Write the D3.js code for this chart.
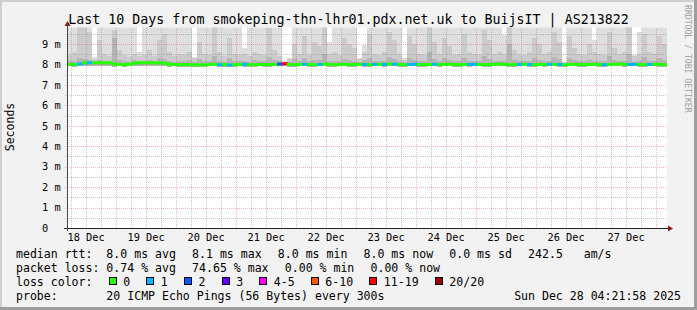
<!DOCTYPE html>
<html>
<head>
<meta charset="utf-8">
<script src="https://cdn.jsdelivr.net/npm/d3@7"></script>
<style>
  html, body { margin: 0; padding: 0; background: #f2f2f2; }
  svg { display: block; }
  text { font-family: "DejaVu Sans Mono", monospace; fill: #000; white-space: pre; }
</style>
</head>
<body>
<svg id="chart"></svg>
<script>
const title = "Last 10 Days from smokeping-thn-lhr01.pdx.net.uk to BuijsIT | AS213822";
const startTime = new Date(2025, 11, 18, 4, 21, 58);
const endTime = new Date(2025, 11, 28, 4, 21, 58);
const binHours = 2; // one value every 2 hours

// median rtt (ms) per bin
const median = [
  8.00,8.00,8.03,8.08,8.08,8.08,8.08,8.08,8.07,8.01,8.00,7.99,8.02,8.07,8.08,8.08,8.08,8.07,8.08,8.05,
  8.01,8.00,7.99,8.00,7.99,7.98,7.99,7.98,8.00,8.01,7.99,8.00,7.98,7.99,8.00,8.01,7.99,7.99,8.00,8.00,
  7.99,8.00,8.02,8.04,8.00,7.99,8.00,8.01,8.00,7.99,8.00,8.02,8.00,7.99,8.00,8.01,7.99,8.00,8.01,8.00,
  7.99,8.00,8.01,8.00,8.03,8.01,8.00,7.99,8.00,8.01,8.00,7.99,8.00,8.01,8.00,8.00,8.01,8.00,7.99,8.00,
  8.00,8.01,8.00,7.99,8.00,8.01,8.02,8.00,7.99,8.00,8.00,8.01,8.00,7.99,8.00,8.00,8.01,8.00,8.00,7.99,
  8.00,8.01,8.00,7.99,8.00,8.01,8.00,7.99,8.00,8.01,8.02,8.00,8.00,8.01,8.00,7.99,8.00,8.01,8.00,7.99
];

// loss colour bucket per bin (index into lossLabels)
const loss = [
  0,0,1,0,1,0,0,0,0,0,0,0,0,0,0,0,0,0,0,0,
  0,0,0,0,0,0,0,0,0,0,1,0,1,0,0,1,0,0,0,0,
  0,0,2,6,0,0,0,1,0,0,1,0,0,0,0,0,0,0,0,1,
  0,1,0,1,0,1,0,0,1,1,0,0,0,1,0,0,0,0,0,0,
  1,1,0,0,0,0,0,0,0,0,1,0,1,0,0,0,1,0,1,0,
  0,0,0,0,0,0,0,1,0,0,0,0,1,1,0,0,1,0,0,0
];

// smoke: lowest ping, inner band, middle band, highest ping (ms)
const smokeLo = [
  7.92,7.90,7.93,7.95,7.94,7.91,7.93,7.94,7.92,7.90,7.91,7.89,7.92,7.94,7.95,7.93,7.94,7.92,7.93,7.91,
  7.90,7.91,7.89,7.90,7.88,7.89,7.90,7.88,7.91,7.92,7.89,7.90,7.88,7.90,7.91,7.90,7.89,7.90,7.91,7.90,
  7.89,7.91,7.92,7.93,7.90,7.89,7.91,7.92,7.90,7.89,7.91,7.92,7.90,7.89,7.91,7.92,7.89,7.90,7.92,7.90,
  7.89,7.91,7.92,7.90,7.93,7.91,7.90,7.89,7.91,7.92,7.90,7.89,7.91,7.92,7.90,7.91,7.92,7.90,7.89,7.91,
  7.90,7.92,7.91,7.89,7.90,7.92,7.93,7.91,7.89,7.90,7.91,7.92,7.90,7.89,7.91,7.90,7.92,7.91,7.90,7.89,
  7.91,7.92,7.90,7.89,7.91,7.92,7.90,7.89,7.91,7.92,7.93,7.90,7.91,7.92,7.90,7.89,7.91,7.92,7.90,7.89
];
const smokeIn = [
  8.15,8.18,8.30,8.25,8.20,8.12,8.22,8.18,8.16,9.30,8.20,8.15,8.14,8.20,8.18,8.16,8.22,8.15,8.30,8.25,
  8.16,8.14,8.18,8.15,8.20,8.12,8.25,8.16,8.15,8.40,8.18,8.14,8.30,8.16,8.15,8.18,8.14,8.20,8.16,8.15,
  8.35,8.20,8.15,8.10,8.12,8.25,8.16,8.30,8.15,8.22,8.20,8.50,8.16,8.18,8.15,8.28,8.20,8.18,8.12,8.20,
  8.30,8.16,8.15,8.18,8.35,8.25,8.16,8.14,8.30,8.20,8.16,8.15,8.60,8.25,8.16,8.30,8.20,8.15,8.16,8.30,
  8.18,8.16,8.15,8.40,8.25,8.16,8.18,8.16,9.00,8.20,8.16,8.15,8.18,8.30,8.22,8.16,8.18,8.35,8.25,8.08,
  8.30,8.20,8.16,8.15,8.22,8.18,8.16,8.15,8.40,8.20,8.16,8.18,8.50,8.14,8.16,8.35,8.18,8.16,8.30,8.22
];
const smokeMid = [
  8.45,8.60,9.90,10.4,9.60,8.25,9.20,8.50,8.40,9.70,8.70,8.45,8.35,8.50,8.40,8.45,8.70,8.40,9.20,9.50,
  8.60,8.40,8.50,8.45,8.60,8.30,9.10,8.50,8.45,10.2,8.60,8.40,9.30,8.50,8.45,8.50,8.40,8.60,8.50,8.45,
  9.80,8.70,8.40,8.12,8.25,9.00,8.50,9.40,8.45,9.10,8.90,10.1,8.50,8.60,8.45,9.30,9.00,8.80,8.25,8.60,
  9.50,8.50,8.45,8.60,9.60,9.20,8.50,8.20,9.40,9.00,8.50,8.45,10.3,9.10,8.50,9.30,8.90,8.45,8.50,9.50,
  8.60,8.50,8.45,9.70,9.20,8.50,8.60,8.50,10.1,8.70,8.50,8.45,8.60,9.30,9.00,8.50,8.60,9.60,9.10,8.10,
  9.40,8.80,8.50,8.45,9.00,8.60,8.50,8.45,9.60,8.80,8.50,8.60,9.90,8.40,8.50,9.50,8.60,8.50,9.40,9.00
];
const smokeHi = [
  11.2,10.8,12.5,11.9,10.6,8.37,11.4,10.9,11.7,12.2,10.5,11.1,10.7,11.3,8.61,10.9,11.6,10.4,12.1,11.0,
  10.7,11.5,10.9,11.2,10.6,8.37,10.3,11.8,10.9,12.4,11.1,10.6,11.9,10.8,11.3,8.80,10.7,11.2,10.5,11.0,
  12.0,11.3,10.9,8.15,8.30,10.6,11.4,10.8,11.7,10.5,11.2,12.3,9.10,10.9,11.1,10.6,11.8,10.7,8.30,8.95,
  11.3,10.8,11.6,10.5,12.0,11.2,10.7,8.30,11.4,10.9,11.1,10.6,12.2,11.5,10.8,11.0,10.6,11.3,10.9,11.7,
  10.5,11.2,10.8,11.9,11.3,10.7,10.4,9.44,12.1,11.0,10.6,11.4,10.9,11.6,10.8,11.2,10.5,11.8,11.0,8.12,
  11.5,10.9,11.3,10.6,11.0,9.20,10.8,11.7,11.2,10.5,11.4,10.9,12.0,8.46,9.59,11.1,10.7,11.3,10.8,11.6
];

const lossLabels = ["0", "1", "2", "3", "4-5", "6-10", "11-19", "20/20"];
const lossColors = ["#26ff00", "#00b8ff", "#0059ff", "#5e00ff", "#ff00fe", "#ff5500", "#ff0000", "#a10000"];

const legendRtt = ["median rtt:  8.0 ms avg", "8.1 ms max", "8.0 ms min", "8.0 ms now", "0.0 ms sd", "242.5   am/s"];
const legendLoss = ["packet loss: 0.74 % avg", "74.65 % max", "0.00 % min", "0.00 % now"];
const probeText = "probe:       20 ICMP Echo Pings (56 Bytes) every 300s";
const stampText = "Sun Dec 28 04:21:58 2025";
const watermark = "RRDTOOL / TOBI OETIKER";

const W = 697, H = 310;
const plotLeft = 67, plotRight = 667, plotTop = 27.5, plotBottom = 228;
const gap = 16.2;

const svg = d3.select("#chart").attr("width", W).attr("height", H);

// background and frame
svg.append("rect").attr("width", W).attr("height", H).attr("fill", "#f2f2f2");
svg.append("path").attr("d", `M0,0H${W}V2H2V${H}H0Z`).attr("fill", "#cfcfcf");
svg.append("path").attr("d", `M${W},${H}H0V${H - 3}H${W - 3}V0H${W}Z`).attr("fill", "#9e9e9e");

const x = d3.scaleTime().domain([startTime, endTime]).range([plotLeft, plotRight]);
const y = d3.scaleLinear().domain([0, 9.81]).range([plotBottom, plotTop]);

const bins = median.map((m, i) => ({
  t0: d3.timeHour.offset(startTime, i * binHours),
  t1: d3.timeHour.offset(startTime, (i + 1) * binHours),
  median: m, loss: loss[i],
  lo: smokeLo[i], inner: smokeIn[i], mid: smokeMid[i], hi: smokeHi[i]
}));

svg.append("defs").append("clipPath").attr("id", "canvas")
  .append("rect").attr("x", plotLeft).attr("y", plotTop)
  .attr("width", plotRight - plotLeft).attr("height", plotBottom - plotTop);

svg.append("rect").attr("x", plotLeft).attr("y", plotTop)
  .attr("width", plotRight - plotLeft).attr("height", plotBottom - plotTop).attr("fill", "#fff");

// smoke
const smoke = svg.append("g").attr("clip-path", "url(#canvas)").attr("shape-rendering", "crispEdges");
[["hi", "#dedede"], ["mid", "#cbcbcb"], ["inner", "#b4b4b4"]].forEach(([key, color]) => {
  smoke.append("g").selectAll("rect").data(bins).join("rect")
    .attr("x", d => x(d.t0))
    .attr("width", d => x(d.t1) - x(d.t0))
    .attr("y", d => y(d[key]))
    .attr("height", d => y(d.lo) - y(d[key]))
    .attr("fill", color);
});

// grid
const px = v => Math.round(v) + 0.5;
const majorColor = "rgba(222,80,80,0.42)";
const minorColor = "rgba(143,143,143,0.5)";
const grid = svg.append("g").attr("shape-rendering", "crispEdges").attr("stroke-dasharray", "1,1");
const hLines = d3.range(1, 20).map(k => k / 2);
grid.selectAll("line.h").data(hLines).join("line").attr("class", "h")
  .attr("x1", plotLeft - 2).attr("x2", plotRight)
  .attr("y1", d => px(y(d))).attr("y2", d => px(y(d)))
  .attr("stroke", d => d % 1 === 0 ? majorColor : minorColor);
const vLines = d3.timeHour.every(6).range(startTime, endTime);
grid.selectAll("line.v").data(vLines).join("line").attr("class", "v")
  .attr("x1", d => px(x(d))).attr("x2", d => px(x(d)))
  .attr("y1", plotTop).attr("y2", plotBottom + 2)
  .attr("stroke", d => d.getHours() === 0 ? majorColor : minorColor);

// median line coloured by loss
svg.append("g").attr("clip-path", "url(#canvas)").selectAll("path").data(bins).join("path")
  .attr("d", (d, i) => {
    const next = bins[i + 1] ? bins[i + 1].median : d.median;
    return `M${x(d.t0)},${y(d.median)}H${x(d.t1)}V${y(next)}`;
  })
  .attr("fill", "none")
  .attr("stroke-width", 3)
  .attr("stroke", d => lossColors[d.loss]);

// axes
svg.append("line").attr("x1", plotLeft - 3).attr("x2", plotRight + 1)
  .attr("y1", plotBottom + 0.5).attr("y2", plotBottom + 0.5)
  .attr("stroke", "#222").attr("shape-rendering", "crispEdges");
svg.append("line").attr("x1", plotLeft + 0.5).attr("x2", plotLeft + 0.5)
  .attr("y1", plotBottom + 3).attr("y2", plotTop - 3)
  .attr("stroke", "#444").attr("shape-rendering", "crispEdges");
svg.append("path")
  .attr("d", `M${plotRight + 1},${plotBottom - 2.5}L${plotRight + 6},${plotBottom + 0.5}L${plotRight + 1},${plotBottom + 3.5}Z`)
  .attr("fill", "#8b1a1a");
svg.append("path")
  .attr("d", `M${plotLeft - 2.5},${plotTop - 1.5}L${plotLeft + 0.5},${plotTop - 6.5}L${plotLeft + 3.5},${plotTop - 1.5}Z`)
  .attr("fill", "#8b1a1a");

// y labels
svg.append("g").selectAll("text").data(d3.range(0, 10)).join("text")
  .attr("x", 42).attr("y", d => y(d) + 3.7)
  .attr("font-size", "10.3px")
  .text(d => d === 0 ? "0" : d + " m");

// x labels at noon
const days = d3.timeDay.range(d3.timeDay.floor(startTime), endTime)
  .map(d => d3.timeHour.offset(d, 12))
  .filter(d => d > startTime && d < endTime);
svg.append("g").selectAll("text").data(days).join("text")
  .attr("x", d => x(d)).attr("y", 241)
  .attr("text-anchor", "middle").attr("font-size", "10.3px")
  .text(d3.timeFormat("%d %b"));

// title, axis title, watermark
svg.append("text").attr("x", W / 2).attr("y", 24).attr("text-anchor", "middle")
  .attr("font-size", "13.3px").text(title);
svg.append("text").attr("transform", "translate(14,127) rotate(-90)")
  .attr("text-anchor", "middle").attr("font-size", "11.5px").text("Seconds");
svg.append("text").attr("transform", "translate(684.5,5) rotate(90)")
  .attr("font-size", "8.15px").style("fill", "#a0a0a0").text(watermark);

// legend
const legendFont = "11.55px";
function textRow(items, yBase) {
  let cx = 16;
  items.forEach(s => {
    const t = svg.append("text").attr("x", cx).attr("y", yBase).attr("font-size", legendFont).text(s);
    cx += t.node().getComputedTextLength() + gap;
  });
}
textRow(legendRtt, 258);
textRow(legendLoss, 272);

let lx = 16;
const lc = svg.append("text").attr("x", lx).attr("y", 286).attr("font-size", legendFont).text("loss color:");
lx += lc.node().getComputedTextLength() + gap;
lossLabels.forEach((lab, i) => {
  svg.append("rect").attr("x", Math.round(lx) + 0.5).attr("y", 277.5).attr("width", 7).attr("height", 7)
    .attr("fill", lossColors[i]).attr("stroke", "#000").attr("shape-rendering", "crispEdges");
  const t = svg.append("text").attr("x", lx + 14.5).attr("y", 286).attr("font-size", legendFont).text(lab);
  lx += 14.5 + t.node().getComputedTextLength() + gap;
});

svg.append("text").attr("x", 16).attr("y", 300).attr("font-size", legendFont).text(probeText);
svg.append("text").attr("x", 681).attr("y", 300).attr("text-anchor", "end").attr("font-size", legendFont).text(stampText);
</script>
</body>
</html>
